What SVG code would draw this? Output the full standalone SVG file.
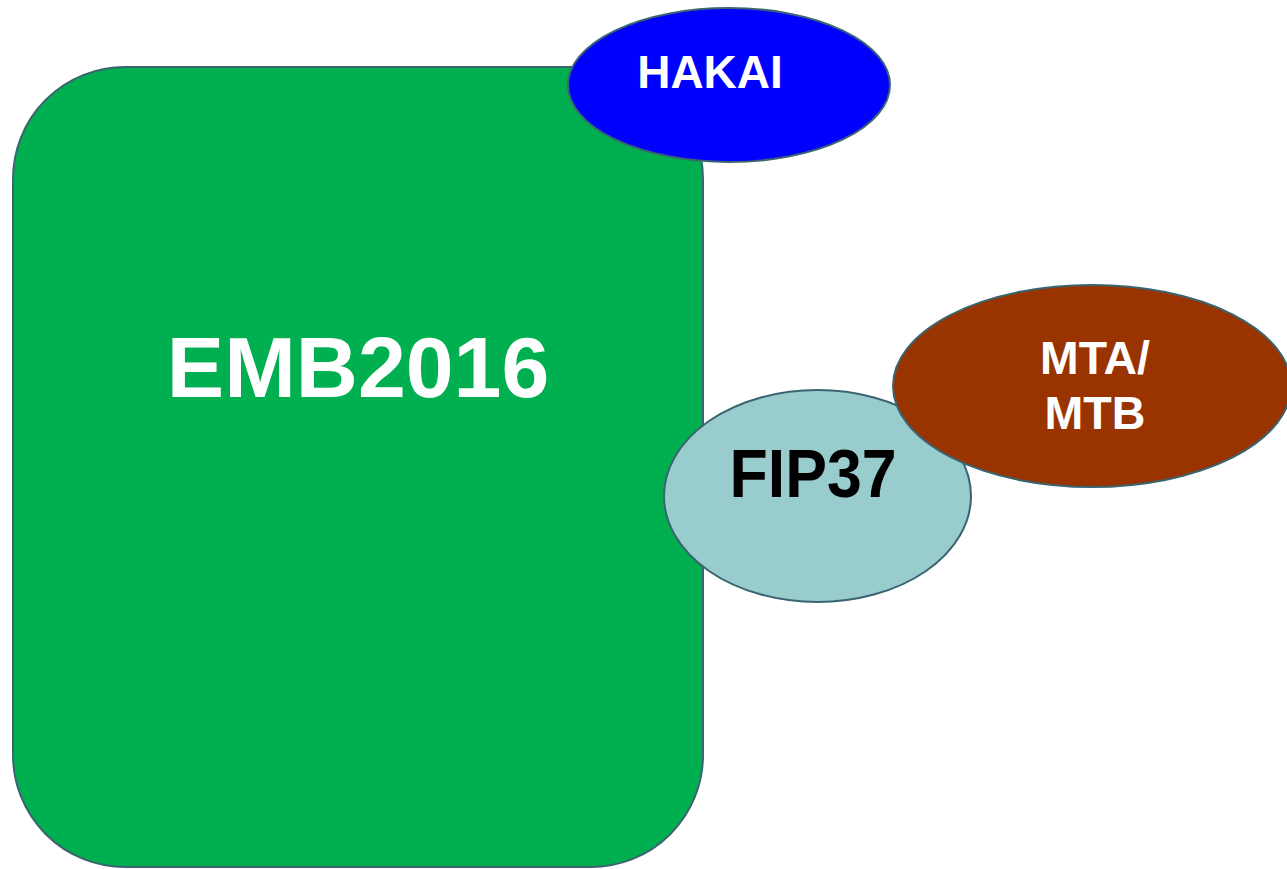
<svg xmlns="http://www.w3.org/2000/svg" width="1287" height="869" viewBox="0 0 1287 869">
  <style>
    .shape { stroke: #3a6470; stroke-width: 2; }
    .label { font-family: "Liberation Sans", Arial, sans-serif; font-weight: bold; text-anchor: middle; }
  </style>
  <rect width="1287" height="869" fill="#ffffff"/>
  <g id="emb2016">
    <rect class="shape" x="13" y="67" width="690" height="800" rx="112" ry="112" fill="#00af50"/>
    <text class="label" x="358" y="397" font-size="86" fill="#ffffff">EMB2016</text>
  </g>
  <g id="hakai">
    <ellipse class="shape" cx="729" cy="85" rx="161" ry="77" fill="#0000ff"/>
    <text class="label" x="710" y="88" font-size="46" fill="#ffffff">HAKAI</text>
  </g>
  <g id="fip37">
    <ellipse class="shape" cx="817.5" cy="496" rx="153.5" ry="106" fill="#99cccc"/>
    <text class="label" x="813" y="497" font-size="68" fill="#000000" textLength="167" lengthAdjust="spacingAndGlyphs">FIP37</text>
  </g>
  <g id="mta-mtb">
    <ellipse class="shape" cx="1092" cy="386" rx="199" ry="101" fill="#993300"/>
    <text class="label" x="1095" y="374" font-size="47" fill="#ffffff" textLength="110" lengthAdjust="spacingAndGlyphs">MTA/</text>
    <text class="label" x="1095" y="429" font-size="47" fill="#ffffff" textLength="101" lengthAdjust="spacingAndGlyphs">MTB</text>
  </g>
  <g id="connectors"/>
</svg>
